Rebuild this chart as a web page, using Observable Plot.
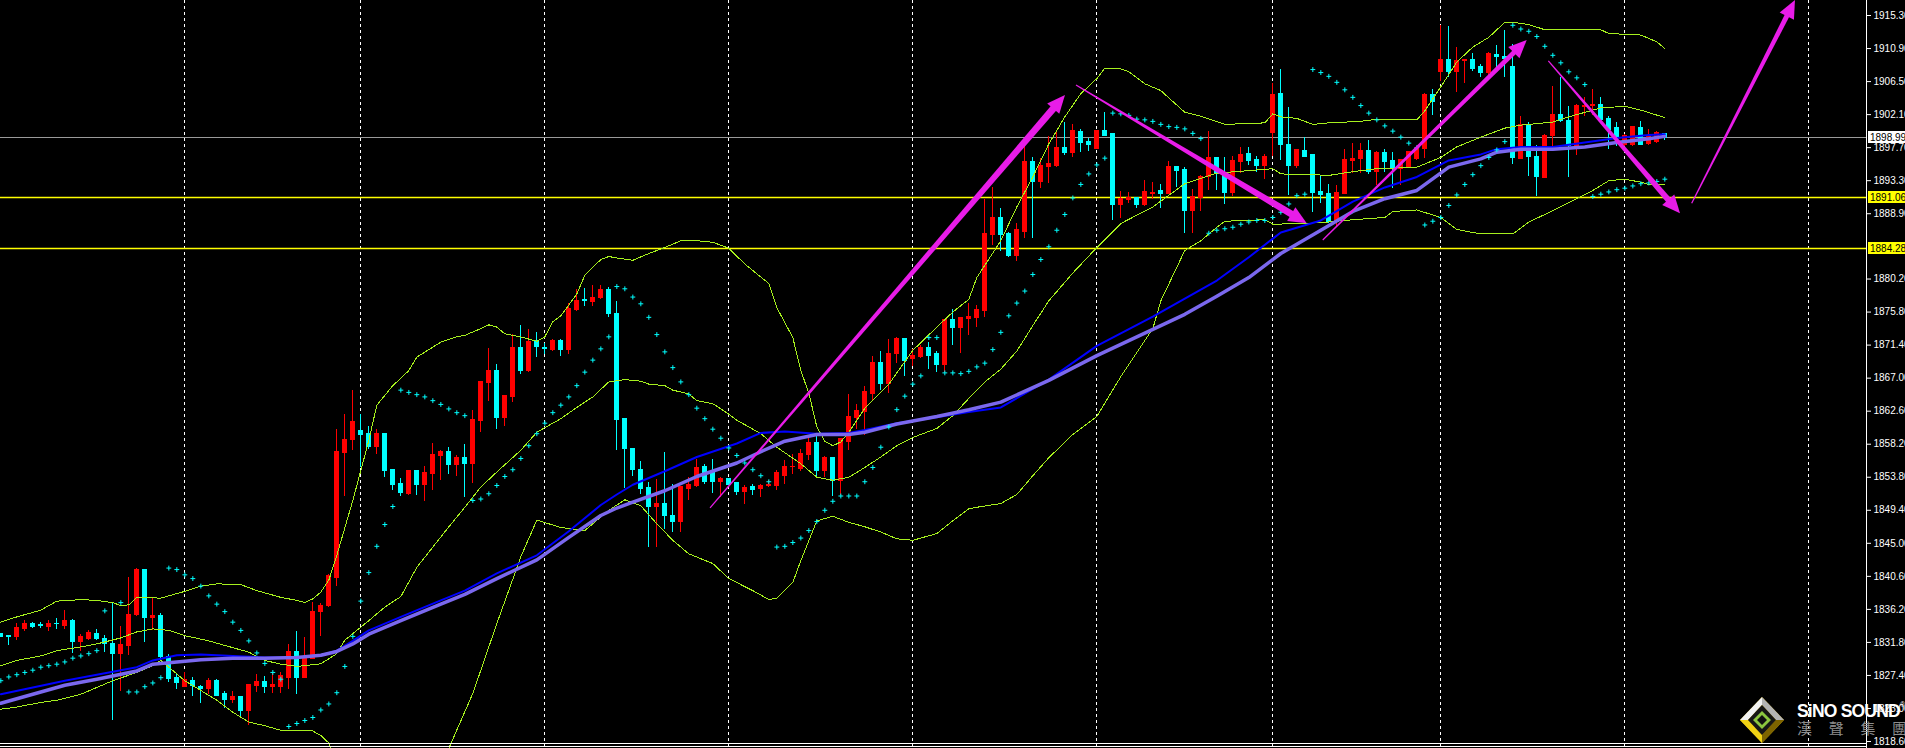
<!DOCTYPE html>
<html><head><meta charset="utf-8">
<script src="https://cdn.jsdelivr.net/npm/d3@7"></script>
<script src="https://cdn.jsdelivr.net/npm/@observablehq/plot@0.6"></script>
<style>html,body{margin:0;padding:0;background:#000;overflow:hidden}</style>
</head><body><div id="chart"></div>
<script>
// ---- candles (bar index = position in array) ----
const opens = [1832.9,1832.6,1832.5,1833.6,1834.3,1834.1,1833.9,1834.3,1834.0,1834.7,
1831.8,1832.3,1832.9,1832.3,1831.6,1830.2,1831.3,1835.4,1841.5,1835.0,
1835.3,1829.8,1827.0,1825.8,1826.7,1825.9,1825.6,1826.7,1824.9,1824.1,
1824.5,1822.7,1826.0,1826.5,1825.8,1825.8,1827.1,1830.5,1827.1,1829.6,
1835.8,1836.6,1840.4,1857.0,1858.7,1860.0,1859.5,1857.8,1859.5,1854.7,
1852.9,1851.6,1854.6,1852.8,1854.2,1856.6,1857.2,1855.4,1856.3,1855.5,
1861.3,1866.3,1868.0,1861.7,1864.5,1871.0,1867.9,1871.8,1871.0,1870.8,
1871.9,1870.8,1876.1,1877.4,1877.2,1877.7,1878.7,1875.6,1861.5,1857.6,
1854.8,1852.4,1849.9,1850.3,1848.7,1847.8,1852.3,1852.7,1855.1,1854.5,
1853.2,1853.5,1853.0,1851.9,1852.5,1852.2,1852.6,1852.7,1854.0,1855.1,
1854.9,1856.8,1858.4,1854.6,1856.3,1853.3,1858.5,1861.7,1862.5,1864.9,
1869.0,1866.2,1870.2,1872.2,1869.5,1869.8,1871.0,1870.2,1868.7,1874.8,
1873.7,1874.9,1875.0,1875.9,1886.0,1888.3,1886.2,1883.3,1886.5,1895.8,
1893.1,1895.1,1895.3,1897.6,1897.0,1899.8,1898.4,1897.5,1899.9,1899.5,
1890.0,1890.7,1891.0,1890.1,1891.5,1891.9,1891.5,1895.1,1894.7,1889.2,
1891.0,1893.8,1896.3,1894.3,1891.6,1895.8,1896.8,1896.0,1895.2,1899.6,
1904.8,1898.1,1895.3,1897.3,1896.7,1891.8,1891.5,1887.8,1891.5,1895.9,
1896.2,1897.2,1894.4,1897.0,1895.9,1894.9,1895.1,1896.2,1897.5,1904.7,
1907.8,1909.4,1907.8,1909.2,1909.4,1908.4,1907.6,1910.0,1909.8,1908.5,
1896.2,1900.6,1896.5,1893.6,1899.2,1902.1,1901.3,1897.9,1903.1,1903.2,
1903.4,1901.5,1900.3,1898.0,1898.1,1900.3,1898.2,1898.4,1899.5];
const highs = [1833.0,1832.6,1834.3,1834.7,1834.5,1834.5,1834.7,1835.0,1836.1,1834.8,
1832.9,1833.4,1833.5,1832.7,1837.0,1833.9,1840.5,1841.7,1841.5,1837.6,
1835.7,1830.2,1827.5,1827.8,1827.1,1826.0,1827.0,1826.8,1825.2,1825.2,
1824.6,1826.1,1827.5,1827.3,1827.7,1827.8,1831.5,1833.3,1832.5,1837.1,
1837.0,1840.9,1860.2,1862.2,1865.4,1862.1,1860.6,1860.1,1859.6,1854.7,
1853.6,1854.7,1854.7,1855.2,1858.3,1857.4,1857.8,1856.7,1858.2,1862.7,
1866.6,1871.0,1868.8,1864.6,1872.8,1874.0,1873.5,1873.1,1871.6,1872.2,
1872.2,1876.9,1878.8,1879.0,1879.3,1879.3,1879.1,1877.2,1861.6,1857.6,
1855.9,1853.1,1853.5,1857.1,1852.8,1852.5,1853.7,1856.1,1855.5,1856.2,
1853.7,1853.5,1853.0,1852.7,1852.9,1852.8,1853.4,1854.7,1856.0,1856.8,
1857.5,1859.1,1859.3,1856.5,1856.3,1858.9,1864.8,1863.5,1865.9,1869.9,
1870.5,1872.1,1872.4,1872.2,1870.8,1871.4,1871.8,1870.5,1874.8,1876.2,
1875.0,1877.0,1876.7,1890.8,1892.4,1889.6,1886.4,1887.6,1897.8,1896.4,
1896.3,1899.2,1900.0,1901.0,1900.8,1900.1,1898.9,1899.9,1902.4,1899.5,
1891.9,1891.7,1891.0,1893.3,1893.0,1892.8,1895.8,1895.2,1895.1,1892.1,
1894.0,1899.9,1896.4,1896.4,1896.5,1897.7,1897.7,1896.5,1896.8,1906.2,
1908.1,1903.0,1897.5,1899.0,1896.7,1893.8,1892.8,1892.7,1897.5,1898.2,
1898.2,1898.6,1897.2,1897.4,1897.0,1896.1,1897.2,1897.6,1904.9,1905.5,
1914.0,1913.8,1911.1,1909.4,1910.2,1908.8,1910.4,1911.3,1913.3,1911.5,
1901.9,1901.1,1898.0,1899.4,1905.9,1907.0,1903.2,1903.5,1904.4,1905.5,
1904.4,1901.8,1901.1,1899.5,1900.4,1901.2,1900.1,1899.8,1899.6];
const lows = [1832.4,1831.4,1832.0,1833.2,1833.6,1833.6,1833.3,1833.5,1833.5,1830.3,
1830.6,1832.0,1832.1,1830.5,1821.4,1825.2,1830.0,1835.2,1831.8,1833.4,
1829.4,1826.4,1825.5,1825.8,1824.6,1823.6,1824.8,1824.7,1823.0,1823.6,
1821.8,1820.7,1825.1,1825.0,1825.0,1825.0,1825.5,1824.8,1827.1,1829.5,
1832.6,1836.4,1839.3,1851.2,1857.4,1855.1,1857.5,1856.8,1853.8,1852.0,
1851.2,1851.4,1851.4,1850.6,1852.0,1853.4,1854.2,1853.9,1851.1,1853.0,
1859.8,1863.9,1860.1,1860.5,1863.8,1867.5,1867.8,1869.7,1870.1,1870.5,
1869.9,1870.2,1875.9,1876.5,1876.5,1877.5,1875.1,1857.3,1852.3,1853.9,
1851.5,1844.4,1844.4,1846.8,1846.5,1846.4,1850.7,1852.5,1852.8,1851.6,
1851.1,1852.7,1851.4,1850.2,1851.4,1851.1,1852.4,1852.1,1852.9,1854.2,
1854.6,1856.0,1853.8,1853.8,1851.3,1851.4,1857.4,1860.2,1859.4,1864.0,
1865.4,1865.0,1868.9,1867.2,1868.5,1869.6,1868.1,1867.7,1867.8,1871.4,
1870.3,1872.7,1873.7,1875.1,1884.7,1883.9,1883.1,1882.6,1885.6,1885.6,
1892.2,1892.9,1895.1,1896.7,1896.4,1897.1,1897.2,1897.5,1899.2,1888.0,
1888.3,1890.3,1889.6,1889.8,1890.8,1889.6,1891.5,1892.4,1886.3,1886.3,
1889.2,1892.0,1892.0,1890.1,1891.2,1894.2,1895.3,1894.4,1893.4,1896.5,
1896.0,1891.3,1894.9,1896.5,1889.1,1890.3,1887.6,1887.1,1891.5,1894.3,
1894.3,1894.1,1892.7,1894.4,1892.2,1892.7,1895.0,1896.0,1896.3,1902.0,
1906.5,1907.1,1905.1,1906.2,1907.8,1907.1,1907.3,1907.8,1907.1,1895.5,
1896.2,1893.8,1891.2,1893.6,1897.8,1901.1,1893.7,1896.7,1901.8,1902.0,
1901.3,1897.5,1897.8,1897.8,1897.8,1898.1,1898.0,1898.3,1898.7];
const closes = [1832.5,1832.5,1833.7,1834.2,1833.9,1834.0,1834.3,1834.2,1834.7,1831.8,
1832.5,1833.0,1832.2,1831.6,1830.2,1831.4,1835.5,1841.5,1835.0,1835.3,
1829.8,1826.9,1826.4,1826.8,1826.0,1825.6,1826.7,1824.7,1824.1,1824.5,
1822.7,1826.1,1826.5,1825.8,1826.1,1827.3,1830.5,1827.1,1829.6,1835.9,
1836.7,1840.6,1857.1,1858.8,1861.1,1859.4,1857.8,1859.5,1854.6,1852.8,
1851.7,1854.6,1852.8,1854.3,1856.7,1857.2,1855.4,1856.3,1855.5,1861.4,
1866.5,1868.0,1861.7,1864.6,1871.0,1867.9,1871.8,1871.1,1870.9,1871.9,
1870.8,1876.2,1877.3,1877.3,1877.7,1878.7,1875.5,1861.4,1857.5,1854.7,
1852.3,1849.9,1850.3,1848.6,1847.8,1852.5,1852.8,1855.0,1853.1,1853.1,
1853.5,1852.8,1851.9,1852.4,1852.1,1852.7,1852.8,1854.3,1855.1,1855.2,
1856.9,1858.4,1854.6,1856.3,1853.3,1858.9,1861.8,1862.6,1865.1,1869.0,
1866.2,1870.2,1872.2,1869.3,1869.9,1871.0,1869.9,1868.8,1874.8,1873.7,
1875.0,1875.1,1876.1,1886.2,1888.3,1886.0,1883.3,1886.7,1895.8,1893.1,
1895.2,1895.5,1897.6,1897.0,1899.9,1898.3,1898.0,1899.9,1899.3,1890.0,
1890.8,1891.0,1890.1,1891.8,1891.7,1891.5,1895.1,1894.6,1889.2,1891.1,
1893.8,1896.3,1894.3,1891.6,1895.9,1896.7,1895.9,1895.2,1896.5,1904.7,
1898.0,1895.3,1897.4,1896.5,1891.6,1891.4,1887.8,1891.6,1896.0,1896.2,
1897.2,1894.4,1897.0,1895.8,1894.9,1896.0,1897.1,1897.5,1904.7,1903.8,
1909.4,1907.8,1909.3,1909.4,1908.2,1907.6,1910.2,1909.8,1909.5,1896.3,
1900.7,1896.4,1893.8,1899.3,1902.1,1901.2,1897.9,1903.2,1903.3,1903.4,
1901.4,1900.0,1899.1,1899.3,1900.4,1898.1,1899.1,1899.6,1899.0];

// ---- Bollinger bands (sampled bar, value) ----
const upperBars = [0,2,5,7,10,12,14,15,16,17,20,23,25,27,30,32,35,37,38,39,40,41,42,44,46,47,49,51,52,55,57,58,60,61,62,63,65,67,68,69,70,72,73,75,76,77,79,81,83,85,86,89,91,93,96,97,99,100,101,102,103,104,105,106,108,111,114,117,119,121,122,125,127,129,131,133,135,137,138,140,141,143,145,148,150,153,158,159,160,162,164,166,170,172,177,178,180,182,184,186,188,189,191,193,200,201,205,207,208];
const upperVals = [1834.5,1835.2,1836.1,1837.3,1837.5,1837.4,1837.1,1836.7,1836.8,1837.8,1837.7,1838.6,1839.3,1839.6,1839.5,1838.7,1837.8,1837.4,1837.1,1837.6,1838.5,1840.1,1843.4,1850.7,1858.7,1863.4,1866.0,1868.0,1869.8,1871.8,1872.5,1872.7,1873.6,1874.1,1873.8,1872.9,1872.5,1871.9,1872.5,1874.5,1875.3,1878.2,1880.7,1882.8,1883.2,1883.0,1882.7,1883.6,1884.4,1885.3,1885.4,1885.1,1884.3,1882.2,1879.6,1876.4,1872.4,1868.0,1865.0,1860.5,1858.6,1858.0,1858.5,1859.8,1863.0,1866.2,1870.7,1873.8,1875.8,1877.5,1880.4,1885.3,1889.8,1893.8,1898.2,1901.8,1904.9,1906.9,1908.3,1908.2,1907.8,1906.2,1905.3,1902.4,1901.9,1900.8,1901.0,1902.2,1901.8,1901.6,1900.8,1901.0,1901.2,1901.5,1901.4,1902.6,1905.8,1909.1,1911.1,1912.4,1914.4,1914.4,1914.1,1913.4,1913.4,1912.9,1912.7,1911.8,1910.9];
const middleBars = [0,2,5,7,10,12,15,17,19,21,23,26,28,31,33,35,37,40,42,43,46,48,50,52,54,56,58,60,62,65,67,70,72,74,76,78,80,81,83,84,86,87,89,91,92,95,97,100,102,104,106,108,110,112,114,117,119,121,123,125,127,129,131,134,137,140,144,148,152,159,160,164,166,169,172,177,180,182,185,188,190,194,196,200,203,205,208];
const middleVals = [1828.7,1829.4,1830.0,1830.7,1831.2,1831.6,1832.4,1833.2,1833.6,1833.4,1832.7,1832.0,1831.4,1830.5,1829.4,1828.9,1828.6,1828.95,1830.3,1832.1,1834.7,1836.5,1837.9,1841.8,1844.5,1847.2,1849.8,1852.5,1854.5,1857.4,1859.8,1861.6,1863.1,1864.5,1866.5,1866.8,1866.6,1866.2,1866.0,1865.4,1864.9,1864.0,1863.6,1862.2,1861.4,1859.6,1857.8,1855.6,1853.8,1853.4,1853.8,1855.1,1856.5,1858.0,1859.1,1860.3,1862.0,1864.3,1866.5,1868.2,1870.6,1874.0,1877.3,1881.0,1884.4,1887.6,1889.8,1892.9,1894.3,1894.9,1894.2,1894.1,1894.0,1894.5,1894.9,1895.1,1896.4,1897.8,1899.1,1900.3,1900.7,1901.1,1901.8,1903.0,1903.2,1902.7,1901.7];
const lowerBars = [0,2,5,7,10,12,14,17,19,20,21,22,23,25,27,29,31,33,35,37,39,40,41,42,44,48,52,55,56,59,62,65,67,70,73,76,78,80,82,84,86,89,91,94,96,97,99,100,102,104,106,108,110,112,114,117,119,121,122,125,127,129,131,134,137,140,144,145,148,150,152,153,158,159,163,166,169,173,174,177,180,182,185,189,191,194,196,199,201,203,205,206,208];
const lowerVals = [1822.9,1823.2,1823.8,1824.1,1824.9,1825.8,1826.7,1827.8,1828.7,1829.4,1828.5,1827.6,1826.7,1825.4,1824.1,1822.5,1821.2,1820.7,1820.1,1820.1,1820.0,1819.4,1818.4,1816.0,1813.0,1810.5,1811.5,1815.0,1817.7,1825.0,1834.3,1843.2,1848.1,1847.1,1846.7,1849.4,1850.8,1850.0,1847.6,1845.4,1843.6,1842.3,1840.3,1838.7,1837.5,1837.7,1839.8,1842.7,1848.0,1848.6,1847.8,1847.2,1846.5,1845.6,1845.4,1846.3,1848.0,1849.6,1849.8,1850.3,1851.5,1854.0,1856.4,1859.5,1861.9,1867.2,1873.6,1877.3,1884.0,1885.3,1887.1,1887.9,1888.1,1887.5,1887.6,1887.8,1888.1,1888.4,1889.2,1889.4,1888.4,1886.8,1886.2,1886.2,1887.8,1889.3,1890.4,1892.0,1893.3,1893.5,1893.1,1892.8,1892.8];

// ---- moving averages (sampled bar, value) ----
const maBars = [0,4,8,12,17,19,22,25,29,33,37,40,42,44,46,50,55,58,62,67,71,75,77,79,83,87,92,95,98,102,106,108,112,117,121,125,131,137,144,148,152,156,160,165,169,173,177,181,185,187,190,194,198,202,206,208];
const maBlue = [1824.9,1825.8,1826.7,1827.5,1828.5,1829.4,1830.1,1830.2,1830.0,1829.8,1829.8,1830.1,1830.7,1832.0,1833.4,1835.2,1837.4,1838.7,1841.0,1843.4,1846.6,1850.1,1851.5,1852.8,1854.6,1856.5,1858.3,1859.7,1859.9,1859.6,1859.7,1860.1,1861.0,1861.8,1862.5,1863.1,1866.8,1871.3,1875.2,1877.6,1880.0,1883.1,1886.4,1888.0,1890.5,1892.4,1893.8,1896.0,1896.8,1897.5,1897.8,1897.8,1898.4,1899.0,1899.4,1899.5];
const maPurple = [1823.7,1824.9,1826.1,1826.9,1828.0,1828.9,1829.2,1829.5,1829.7,1829.7,1829.8,1830.1,1830.6,1831.6,1832.9,1834.7,1836.9,1838.2,1840.3,1842.8,1845.8,1848.7,1849.7,1850.5,1852.0,1853.9,1855.7,1857.2,1858.6,1859.5,1859.5,1859.8,1860.9,1861.9,1862.8,1863.8,1866.7,1870.0,1873.5,1875.5,1877.9,1880.4,1883.6,1886.7,1889.2,1890.9,1892.0,1895.1,1896.2,1897.1,1897.5,1897.5,1897.8,1898.4,1898.9,1899.2];

// ---- parabolic SAR (one per bar, null = not read) ----
const sarValues = [1826.7,1827.2,1827.5,1827.8,1828.1,1828.5,1828.7,1828.9,1829.2,1829.7,
1830.0,1830.3,1830.7,1836.0,null,1837.1,1825.2,1825.2,1825.9,1826.4,
1827.1,1841.7,1841.5,1840.8,1840.3,1839.3,1838.0,1836.9,1835.9,1834.5,
1833.4,1832.0,1830.4,1829.0,1827.8,1826.9,1820.6,1821.0,1821.4,1821.8,
1822.8,1823.6,1825.1,1828.6,1832.6,1837.3,1841.1,1844.6,1847.5,1849.9,
1865.4,1865.1,1864.8,1864.5,1864.0,1863.5,1862.9,1862.4,1862.0,1850.7,
1850.9,1851.6,1852.7,1853.9,1854.8,1856.3,1858.0,1859.6,1861.0,1862.4,
1863.4,1864.5,1866.0,1867.8,1869.4,1870.9,1872.5,1879.2,1878.9,1877.8,
1876.9,1875.1,1872.8,1870.5,1868.4,1866.5,1864.8,1863.0,1861.6,1860.2,
1859.0,1857.7,1856.7,1855.7,1854.8,1854.0,1853.2,1844.5,1844.6,1845.1,
1845.7,1846.7,1847.9,1849.4,1850.6,1851.3,1851.3,1851.3,1853.2,1855.1,
1857.8,1860.5,1862.8,1864.6,1866.2,1867.3,1872.4,1872.4,1867.7,1867.7,
1867.6,1867.9,1868.5,1869.0,1870.8,1873.1,1875.3,1877.0,1878.6,1880.8,
1882.8,1884.5,1886.7,1888.8,1891.0,1892.8,1894.2,1895.4,1896.3,1902.3,
1902.2,1902.0,1901.5,1901.4,1901.2,1900.8,1900.5,1900.4,1900.2,1899.6,
1898.9,1886.3,1886.7,1886.9,1887.1,1887.5,1887.8,1888.0,1888.0,1888.4,
1889.1,1890.2,1891.3,1891.5,1908.1,1907.7,1907.2,1906.4,1905.4,1904.4,
1903.3,1902.3,1901.4,1900.6,1899.9,1899.1,1898.3,1897.7,1887.4,1887.9,
1888.4,1890.0,1891.4,1892.8,1894.1,1895.3,1896.4,1897.4,1898.5,1914.0,
1913.5,1913.2,1912.5,1911.2,1910.0,1909.0,1907.8,1907.0,1906.1,1891.2,
1891.5,1891.8,1892.1,1892.3,1892.6,1892.9,1893.0,1893.2,1893.5];

// ---- day separators, levels, axis ticks ----
const sepBars = [23,45,68,91,114,137,159,180,203,226];
const bidPrice = 1898.99;
const levels = [1891.06, 1884.28];
const tickValues = [1915.30,1910.90,1906.50,1902.10,1897.70,1893.30,1888.90,1880.20,1875.80,1871.40,1867.00,1862.60,1858.20,1853.80,1849.40,1845.00,1840.60,1836.20,1831.80,1827.40,1823.00,1818.60];

// ---- hand-drawn arrows (bar, price) ----
const arrowFromBar = [88.71,134.46,165.30,193.50,211.42];
const arrowFromPrice = [1849.64,1905.98,1885.33,1909.18,1890.22];
const arrowToBar = [133.08,163.30,190.80,209.96,224.33];
const arrowToPrice = [1904.65,1887.56,1911.97,1888.89,1917.30];

// ---------------- drawing ----------------
const idx = d3.range(opens.length);
const candleColor = i => closes[i] > opens[i] ? "#FF0000" : "#00FFFF";
const pairs = (bars, vals) => bars.map((b, k) => ({b, v: vals[k]}));
const sarData = idx.filter(i => sarValues[i] != null).map(i => ({b: i, v: sarValues[i]}));
const bbColor = "#A6F01E";

const plot = Plot.plot({
  width: 1905, height: 748,
  marginLeft: 0, marginRight: 39, marginTop: 0, marginBottom: 0,
  style: {background: "#000", color: "#fff", fontFamily: "'Liberation Sans', Arial, sans-serif", fontSize: "10px"},
  color: {type: "identity"},
  x: {domain: [-0.33 / 8, (1866 - 0.33) / 8], axis: null},
  y: {domain: [1817.67, 1917.30], axis: "right", ticks: tickValues, tickFormat: d3.format(".2f"), tickSize: 4, tickPadding: 3, label: null},
  marks: [
    Plot.ruleX(sepBars, {x: d => d, stroke: "#fff", strokeWidth: 1, strokeDasharray: "3,3", shapeRendering: "crispEdges"}),
    Plot.ruleY([bidPrice], {y: d => d, stroke: "#9a9a9a", strokeWidth: 1, shapeRendering: "crispEdges"}),
    Plot.ruleY(levels, {y: d => d, stroke: "#FFFF00", strokeWidth: 1.5}),
    Plot.ruleX(idx, {x: i => i, y1: i => lows[i], y2: i => highs[i], stroke: candleColor, strokeWidth: 1, shapeRendering: "crispEdges"}),
    Plot.rect(idx, {x1: i => i - 0.31, x2: i => i + 0.31, y1: i => opens[i], y2: i => closes[i], fill: candleColor, insetTop: -0.5, insetBottom: -0.5, shapeRendering: "crispEdges"}),
    Plot.line(pairs(upperBars, upperVals), {x: "b", y: "v", stroke: bbColor, strokeWidth: 1, clip: true, shapeRendering: "crispEdges"}),
    Plot.line(pairs(middleBars, middleVals), {x: "b", y: "v", stroke: bbColor, strokeWidth: 1, clip: true, shapeRendering: "crispEdges"}),
    Plot.line(pairs(lowerBars, lowerVals), {x: "b", y: "v", stroke: bbColor, strokeWidth: 1, clip: true, shapeRendering: "crispEdges"}),
    Plot.line(pairs(maBars, maBlue), {x: "b", y: "v", stroke: "#0000FF", strokeWidth: 2}),
    Plot.line(pairs(maBars, maPurple), {x: "b", y: "v", stroke: "#7B68EE", strokeWidth: 3.5}),
    Plot.dot(sarData, {x: "b", y: "v", symbol: "plus", r: 1.7, stroke: "#00FFFF", strokeWidth: 1})
  ]
});
document.getElementById("chart").appendChild(plot);

const svg = d3.select(plot.tagName.toLowerCase() === "svg" ? plot : plot.querySelector("svg"));
const sx = plot.scale("x"), sy = plot.scale("y");
const X = d3.scaleLinear(sx.domain, sx.range), Y = d3.scaleLinear(sy.domain, sy.range);

// arrows (tapered shaft + head), positioned through the plot scales
const arrowMaxW = [7, 7, 5, 6, 5], headLen = 18, headHalf = 8, arrowColor = "#E81CE8";
const gA = svg.append("g");
arrowFromBar.forEach((_, k) => {
  const x0 = X(arrowFromBar[k]), y0 = Y(arrowFromPrice[k]), x1 = X(arrowToBar[k]), y1 = Y(arrowToPrice[k]);
  const dx = x1 - x0, dy = y1 - y0, L = Math.hypot(dx, dy), ux = dx / L, uy = dy / L, nx = -uy, ny = ux;
  const bx = x1 - ux * headLen, by = y1 - uy * headLen;
  const w0 = 0.6, w1 = arrowMaxW[k] / 2;
  const shaft = [[x0 + nx * w0, y0 + ny * w0], [bx + ux * 3 + nx * w1, by + uy * 3 + ny * w1], [bx + ux * 3 - nx * w1, by + uy * 3 - ny * w1], [x0 - nx * w0, y0 - ny * w0]];
  const head = [[x1, y1], [bx + nx * headHalf, by + ny * headHalf], [bx - nx * headHalf, by - ny * headHalf]];
  gA.append("polygon").attr("points", shaft.map(p => p.join(",")).join(" ")).attr("fill", arrowColor);
  gA.append("polygon").attr("points", head.map(p => p.join(",")).join(" ")).attr("fill", arrowColor);
});

// chart frame
const xr = sx.range[1];
svg.append("line").attr("x1", xr + 0.5).attr("x2", xr + 0.5).attr("y1", 0).attr("y2", 748).attr("stroke", "#fff");
svg.append("line").attr("x1", 0).attr("x2", xr).attr("y1", 743.5).attr("y2", 743.5).attr("stroke", "#fff");
svg.append("line").attr("x1", 0).attr("x2", xr).attr("y1", 746.5).attr("y2", 746.5).attr("stroke", "#fff");

// price labels on the axis
[[bidPrice, "#ffffff"], [levels[0], "#FFFF00"], [levels[1], "#FFFF00"]].forEach(([v, c]) => {
  const yy = Math.round(Y(v));
  svg.append("rect").attr("x", xr + 2).attr("y", yy - 6).attr("width", 40).attr("height", 12).attr("fill", c);
  svg.append("text").attr("x", xr + 4).attr("y", yy + 4).attr("fill", "#000").attr("text-anchor", "start")
    .attr("font-family", "'Liberation Sans', Arial, sans-serif").attr("font-size", 10).text(d3.format(".2f")(v));
});

// logo
const lg = svg.append("g").attr("text-anchor", "start");
const poly = (pts, fill) => lg.append("polygon").attr("points", pts).attr("fill", fill);
poly("1762,697 1784,720 1762,743 1740,720", "#c9a400");
poly("1762,697 1740,720 1748,720 1762,705", "#f2f2f2");
poly("1762,697 1784,720 1776,720 1762,705", "#b4b4b4");
poly("1740,720 1762,743 1762,735 1748,720", "#f0d214");
poly("1784,720 1762,743 1762,735 1776,720", "#7d6400");
poly("1762,705 1776,720 1762,735 1748,720", "#161616");
poly("1762,711 1771,720 1762,729 1753,720", "#8cc63f");
poly("1762,715 1767,720 1762,725 1757,720", "#111");
lg.append("text").attr("x", 1797).attr("y", 717).attr("fill", "#fff").attr("text-anchor", "start")
  .attr("font-family", "'Liberation Sans', Arial, sans-serif").attr("font-weight", "bold")
  .attr("font-size", 17.5).attr("letter-spacing", -0.8).text("SiNO SOUND");
lg.append("text").attr("x", 1900).attr("y", 707).attr("fill", "#fff").attr("text-anchor", "start")
  .attr("font-family", "'Liberation Sans', Arial, sans-serif").attr("font-size", 7).text("®");
lg.append("text").attr("x", 1797).attr("y", 734).attr("fill", "#8c8c8c").attr("text-anchor", "start")
  .attr("font-family", "'Noto Sans CJK TC', sans-serif").attr("font-size", 15)
  .attr("letter-spacing", 16.7).text("漢聲集團");
</script></body></html>
